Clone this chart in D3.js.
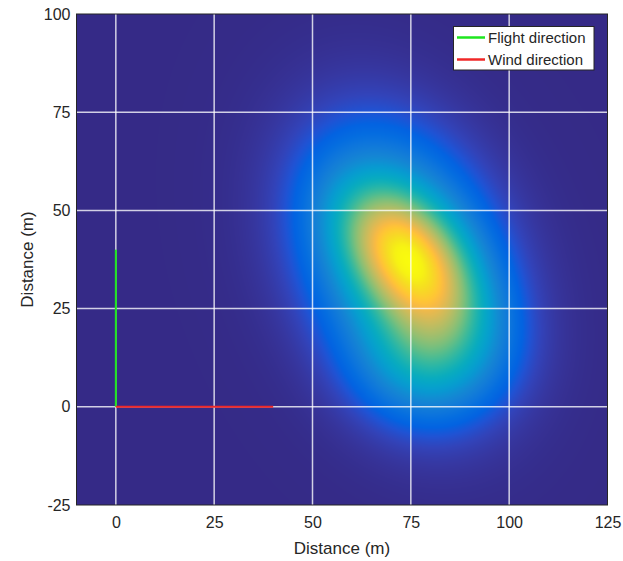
<!DOCTYPE html>
<html>
<head>
<meta charset="utf-8">
<script src="https://cdn.jsdelivr.net/npm/d3@7"></script>
<style>
html,body{margin:0;padding:0;background:#fff;}
svg{display:block;font-family:"Liberation Sans",Arial,sans-serif;}
</style>
</head>
<body>
<svg id="chart" width="623" height="561"></svg>
<script>
// ---- data ----
const xTicks = [0, 25, 50, 75, 100, 125];
const yTicks = [-25, 0, 25, 50, 75, 100];
const xDomain = [-10, 125];
const yDomain = [-25, 100];
// plume (deposition field): components of the field
const plumeCenterX = [74.5, 73, 80];
const plumeCenterY = [38, 37, 13];
const plumeSigmaMajor = [14, 22, 11];
const plumeSigmaMinor = [8.5, 15, 12];
const plumeTiltDeg = [42, 22, 8];   // major axis tilt from vertical toward lower-right
const plumeWeight = [0.5, 0.45, 0.24];
// direction arrows
const flightLine = {x: [0, 0], y: [0, 40]};
const windLine = {x: [0, 40], y: [0, 0]};
const legendLabels = ["Flight direction", "Wind direction"];
const legendColors = ["#1ee61e", "#f02828"];

// parula colormap stops
const parula = [
[0.2081,0.1663,0.5292],[0.2123,0.2138,0.6270],[0.1959,0.2645,0.7279],[0.1253,0.3242,0.8303],
[0.0117,0.3875,0.8820],[0.0165,0.4266,0.8786],[0.0498,0.4586,0.8641],[0.0723,0.4887,0.8467],
[0.0793,0.5200,0.8312],[0.0641,0.5570,0.8240],[0.0343,0.5966,0.8199],[0.0239,0.6287,0.8038],
[0.0228,0.6535,0.7768],[0.0384,0.6743,0.7436],[0.0843,0.6928,0.7062],[0.1453,0.7098,0.6646],
[0.2178,0.7250,0.6193],[0.3022,0.7376,0.5712],[0.3953,0.7459,0.5244],[0.4871,0.7491,0.4840],
[0.5709,0.7485,0.4494],[0.6473,0.7456,0.4188],[0.7184,0.7411,0.3905],[0.7858,0.7356,0.3633],
[0.8507,0.7299,0.3360],[0.9139,0.7258,0.3063],[0.9739,0.7314,0.2666],[0.9990,0.7653,0.2164],
[0.9880,0.8066,0.1794],[0.9697,0.8481,0.1475],[0.9589,0.8949,0.1132],[0.9661,0.9514,0.0755],
[0.9763,0.9831,0.0538]
];
const colorScale = d3.scaleLinear()
  .domain(parula.map((d,i)=>i/(parula.length-1)))
  .range(parula.map(c=>d3.rgb(c[0]*255,c[1]*255,c[2]*255)))
  .clamp(true);

// ---- layout ----
const svg = d3.select("#chart");
const L = 76.5, R = 607.5, T = 14, B = 505;
const x = d3.scaleLinear().domain(xDomain).range([L, R]);
const y = d3.scaleLinear().domain(yDomain).range([B, T]);

function field(px, py) {
  let v = 0;
  for (let i = 0; i < plumeWeight.length; i++) {
    const t = plumeTiltDeg[i] * Math.PI / 180;
    const dx = px - plumeCenterX[i], dy = py - plumeCenterY[i];
    const u = dx * Math.sin(t) - dy * Math.cos(t);
    const w = dx * Math.cos(t) + dy * Math.sin(t);
    v += plumeWeight[i] * Math.exp(-0.5 * ((u/plumeSigmaMajor[i])**2 + (w/plumeSigmaMinor[i])**2));
  }
  return v;
}

// heatmap via canvas
const W = Math.round(R - L), H = Math.round(B - T);
const canvas = document.createElement("canvas");
canvas.width = W; canvas.height = H;
const ctx = canvas.getContext("2d");
const img = ctx.createImageData(W, H);
const vals = new Float32Array(W*H);
let vmax = 0;
for (let j = 0; j < H; j++) {
  const dyv = y.invert(T + j + 0.5);
  for (let i = 0; i < W; i++) {
    const v = field(x.invert(L + i + 0.5), dyv);
    vals[j*W+i] = v; if (v > vmax) vmax = v;
  }
}
for (let k = 0; k < W*H; k++) {
  const c = d3.rgb(colorScale(vals[k]/vmax));
  img.data[4*k] = c.r; img.data[4*k+1] = c.g; img.data[4*k+2] = c.b; img.data[4*k+3] = 255;
}
ctx.putImageData(img, 0, 0);
svg.append("image").attr("x", L).attr("y", T).attr("width", W).attr("height", H)
  .attr("preserveAspectRatio", "none")
  .attr("href", canvas.toDataURL());

// grid
const grid = svg.append("g").attr("stroke", "#ffffff").attr("stroke-opacity", 0.78).attr("stroke-width", 1.5);
xTicks.forEach(t => { if (t > xDomain[0] && t < xDomain[1]) grid.append("line").attr("x1", x(t)).attr("x2", x(t)).attr("y1", T).attr("y2", B); });
yTicks.forEach(t => { if (t > yDomain[0] && t < yDomain[1]) grid.append("line").attr("y1", y(t)).attr("y2", y(t)).attr("x1", L).attr("x2", R); });

// direction lines
const lineGen = d3.line().x(d=>x(d[0])).y(d=>y(d[1]));
svg.append("path").attr("d", lineGen(flightLine.x.map((v,i)=>[v, flightLine.y[i]])))
  .attr("stroke", legendColors[0]).attr("stroke-width", 2).attr("fill","none");
svg.append("path").attr("d", lineGen(windLine.x.map((v,i)=>[v, windLine.y[i]])))
  .attr("stroke", legendColors[1]).attr("stroke-width", 2).attr("fill","none");

// axes box
svg.append("rect").attr("x", L).attr("y", T).attr("width", R-L).attr("height", B-T)
  .attr("fill","none").attr("stroke","#262626").attr("stroke-width",1);

// tick labels
const fmt = d => String(d);
const xAxis = d3.axisBottom(x).tickValues(xTicks).tickFormat(fmt).tickSize(0).tickPadding(12);
const gx = svg.append("g").attr("transform", `translate(0,${B})`).call(xAxis);
gx.select(".domain").remove();
gx.selectAll("text").attr("font-size", 16).attr("fill", "#262626").attr("font-family","Liberation Sans, Arial, sans-serif");
const yAxis = d3.axisLeft(y).tickValues(yTicks).tickFormat(fmt).tickSize(0).tickPadding(6);
const gy = svg.append("g").attr("transform", `translate(${L},0)`).call(yAxis);
gy.select(".domain").remove();
gy.selectAll("text").attr("font-size", 16).attr("fill", "#262626").attr("font-family","Liberation Sans, Arial, sans-serif");

// axis labels
svg.append("text").attr("x", (L+R)/2).attr("y", 554).attr("text-anchor","middle")
  .attr("font-size", 17).attr("fill","#262626").text("Distance (m)");
svg.append("text").attr("transform", `translate(33,${(T+B)/2}) rotate(-90)`).attr("text-anchor","middle")
  .attr("font-size", 17).attr("fill","#262626").text("Distance (m)");

// legend
const lg = svg.append("g");
lg.append("rect").attr("x", 453.5).attr("y", 26.5).attr("width", 140.5).attr("height", 43.5)
  .attr("fill","#fff").attr("stroke","#262626").attr("stroke-width",1);
legendLabels.forEach((lab, i) => {
  const yy = 37.5 + i*22;
  lg.append("line").attr("x1", 457).attr("x2", 485).attr("y1", yy).attr("y2", yy)
    .attr("stroke", legendColors[i]).attr("stroke-width", 2.5);
  lg.append("text").attr("x", 488).attr("y", yy + 5.5).attr("font-size", 15).attr("fill","#262626").text(lab);
});
</script>
</body>
</html>
